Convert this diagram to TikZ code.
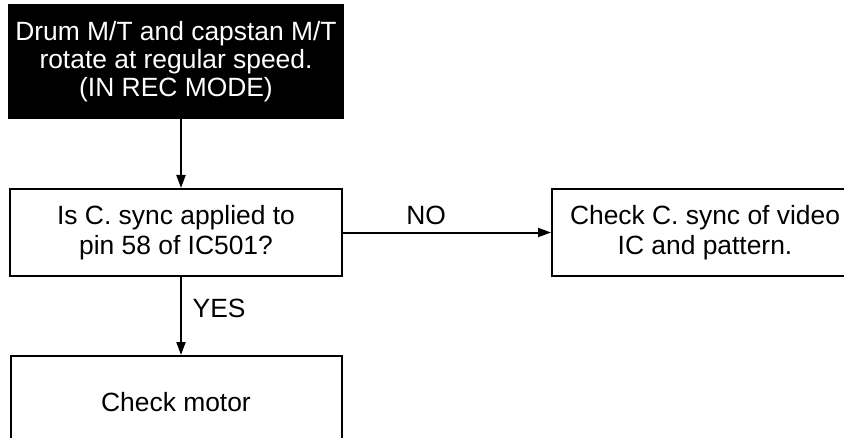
\documentclass[tikz,border=0pt]{standalone}
\usepackage{fontspec}
\setmainfont{Liberation Sans}
\usetikzlibrary{positioning, arrows.meta, calc}

\begin{document}
\begin{tikzpicture}[x=0.5pt,y=-0.5pt,->,>={Triangle[length=6.5pt,width=4.5pt]},line width=1pt,
  font=\fontsize{13.2}{15}\selectfont,
  box/.style={draw, rectangle, align=center, inner sep=0pt, minimum height=43.5pt}]
  \useasboundingbox (0,0) rectangle (844,438);
  \clip (0,0) rectangle (844,438);
  \node[box, fill=black, text=white, minimum width=167pt, minimum height=56.5pt, font=\fontsize{13.2}{14}\selectfont] (drum) at (176,61.5) {Drum M/T and capstan M/T\\rotate at regular speed.\\(IN REC MODE)};
  \node[box, minimum width=166pt] (sync) at (176,232.5) {Is C. sync applied to\\pin 58 of IC501?};
  \node[box, minimum width=153pt] (video) at (705,232.5) {Check C. sync of video\\IC and pattern.};
  \node[box, minimum width=165.5pt, minimum height=46pt] (motor) at (176,402) {Check motor};
  \path
    ([xshift=2.5pt]drum.south) edge ([xshift=2.5pt]sync.north)
    (sync.east) edge node[above, pos=.4] {NO} (video.west)
    ([xshift=2.5pt]sync.south) edge node[right, pos=.4, xshift=2pt] {YES} ([xshift=2.5pt]motor.north);
\end{tikzpicture}
\end{document}
